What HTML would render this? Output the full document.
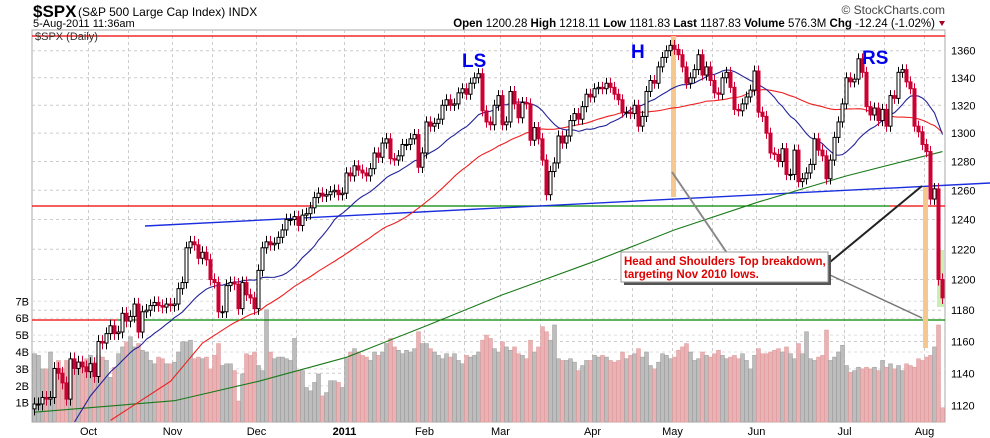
<!DOCTYPE html>
<html><head><meta charset="utf-8">
<style>
html,body{margin:0;padding:0;background:#fff;}
svg{display:block;font-family:"Liberation Sans",sans-serif;}
</style></head>
<body>
<svg id="chart" width="990" height="438" viewBox="0 0 990 438" xmlns="http://www.w3.org/2000/svg">
  <g>
    <text x="33" y="17" font-size="17" font-weight="bold">$SPX</text>
    <text x="78" y="16" font-size="12">(S&amp;P 500 Large Cap Index) INDX</text>
    <text x="33" y="27" font-size="11">5-Aug-2011 11:36am</text>
    <text x="945" y="14" font-size="12" fill="#444" text-anchor="end">© StockCharts.com</text>
    <text x="935" y="27" font-size="11.5" text-anchor="end"><tspan font-weight="bold">Open</tspan> 1200.28 <tspan font-weight="bold">High</tspan> 1218.11 <tspan font-weight="bold">Low</tspan> 1181.83 <tspan font-weight="bold">Last</tspan> 1187.83 <tspan font-weight="bold">Volume</tspan> 576.3M <tspan font-weight="bold">Chg</tspan> -12.24 (-1.02%)</text>
    <polygon points="939,21 945,21 942,26" fill="#aa0022"/>
  </g>
  <rect x="32" y="30" width="913" height="392" fill="#fff" stroke="#aaa"/>
  <g id="grid"></g>
  <g id="vol"></g>
  <g id="lines"></g>
  <g id="mas"></g>
  <g id="candles"></g>
  <g id="axes"></g>
  <text x="35" y="40" font-size="11" fill="#333">$SPX (Daily)</text>
  <text x="462" y="67" font-size="19" font-weight="bold" fill="#0000ee">LS</text>
  <text x="631" y="58" font-size="19" font-weight="bold" fill="#0000ee">H</text>
  <text x="862" y="64" font-size="19" font-weight="bold" fill="#0000ee">RS</text>
  <g>
    <line x1="672" y1="172" x2="727" y2="253" stroke="#888" stroke-width="2"/>
    <line x1="830" y1="262" x2="922" y2="186" stroke="#222" stroke-width="2"/>
    <line x1="830" y1="275" x2="922" y2="318" stroke="#777" stroke-width="1.5"/>
    <rect x="624" y="255" width="207" height="30" fill="#555"/>
    <rect x="621" y="252" width="207" height="30" fill="#fff" stroke="#999"/>
    <text x="624" y="265" font-size="11.5" font-weight="bold" fill="#e00000">Head and Shoulders Top breakdown,</text>
    <text x="624" y="278" font-size="11.5" font-weight="bold" fill="#e00000">targeting Nov 2010 lows.</text>
  </g>
</svg>
<script>
const closes=[1121,1121,1125,1124,1125,1143,1140,1134,1124,1149,1143,1147,1144,1141,
1146,1138,1160,1159,1165,1170,1165,1166,1178,1173,1176,1184,1166,1179,1180,1183,1185,1183,1182,1184,1183,
1184,1194,1198,1221,1225,1223,1214,1218,1213,1200,1198,1179,1179,1196,1198,1197,1181,1198,1190,1188,1181,
1206,1221,1225,1223,1224,1228,1233,1240,1240,1242,1236,1243,1244,1248,1255,1258,1256,1257,1259,1260,1257,1258,
1272,1270,1277,1274,1272,1270,1275,1286,1283,1293,1296,1282,1281,1284,1292,1292,1296,1299,1276,1286,
1308,1305,1307,1310,1320,1324,1320,1321,1329,1332,1328,1336,1340,1343,1316,1308,1306,1320,1327,
1306,1308,1330,1321,1311,1322,1321,1295,1304,1296,1281,1257,1273,1279,1298,1293,1298,1309,1314,1310,1319,1328,1326,
1332,1333,1332,1336,1333,1328,1324,1315,1315,1314,1320,1305,1312,1330,1338,1336,1348,1355,1360,1364,
1361,1357,1348,1336,1340,1346,1357,1342,1348,1338,1329,1328,1340,1344,1333,1317,1316,1321,1326,1331,1345,
1315,1312,1300,1286,1285,1280,1289,1271,1271,1288,1266,1268,1272,1278,1296,1288,1284,1268,1281,1297,1308,1321,
1340,1337,1339,1354,1344,1319,1313,1318,1309,1317,1305,1327,1325,1344,1346,1337,1332,1305,1301,1292,
1287,1254,1261,1200,1188];
const firstOpen=1118;
const volumes=[3.9,3.8,3.0,3.0,4.0,3.0,3.5,3.0,3.5,3.4,3.4,3.0,3.1,3.6,
3.8,3.4,3.8,3.7,3.5,2.5,3.1,3.9,4.3,4.6,4.9,4.3,4.5,4.1,4.0,3.5,3.3,3.7,3.6,3.3,3.3,
3.4,4.0,4.6,4.6,4.7,3.6,3.7,3.6,3.7,3.0,3.8,4.5,3.2,3.3,3.3,2.9,1.1,2.7,3.9,3.8,4.0,
3.2,2.9,6.5,4.0,3.6,3.7,3.7,3.6,3.5,4.8,2.9,2.9,1.9,1.7,2.2,2.7,1.4,1.6,2.3,2.3,2.2,1.9,
3.6,4.0,4.2,4.0,3.8,3.7,3.5,4.0,3.8,4.0,4.5,4.8,4.3,4.1,3.9,4.1,4.0,4.2,5.2,4.5,
4.5,4.2,4.0,3.8,3.6,3.9,3.7,3.9,3.5,3.3,3.8,3.7,3.8,4.0,4.7,5.0,4.8,4.2,4.0,
4.6,4.3,4.1,4.3,3.9,3.8,3.6,4.7,4.0,4.3,5.5,5.2,4.7,5.6,3.6,3.5,3.5,3.6,3.4,2.9,3.2,3.5,3.5,
3.8,3.7,3.8,3.7,3.5,3.4,3.5,4.0,3.6,3.8,3.9,4.2,3.7,4.0,3.2,3.0,3.4,3.9,3.8,3.6,
3.7,4.1,4.3,4.5,4.0,3.5,3.6,4.0,3.8,3.7,3.9,4.1,3.8,3.6,3.7,3.8,3.6,3.9,3.5,3.0,3.8,
4.2,3.9,3.9,4.0,4.1,4.2,4.0,4.3,3.9,3.6,4.5,3.9,5.2,3.6,3.5,3.7,3.8,5.3,3.5,3.7,4.0,4.4,
3.2,2.8,2.9,3.1,3.0,3.1,3.0,3.1,2.9,3.5,3.1,3.3,3.0,3.2,2.9,3.3,3.2,3.1,3.6,3.5,
3.7,3.8,4.3,5.6,0.7];
/* moving-average lead-in values before enough closes exist */
const ma20LeadIdx=[10,14];
const ma20LeadVal=[1110,1126];
const ma50LeadIdx=[19,34,42];
const ma50LeadVal=[1111,1135,1159];
const ma200Idx=[0,35,56,78,98,117,140,160,181,203,227];
const ma200Val=[1116,1123,1135,1150,1170,1190,1212,1233,1252,1270,1287];
const priceTicks=[1120,1140,1160,1180,1200,1220,1240,1260,1280,1300,1320,1340,1360];
const volTicks=[1,2,3,4,5,6,7];
const monthLabels=["Oct","Nov","Dec","2011","Feb","Mar","Apr","May","Jun","Jul","Aug"];
const monthStarts=[14,35,56,78,98,117,140,160,181,203,223];

const NS="http://www.w3.org/2000/svg";
function X(i){return 34.5+4*i;}
function Y(p){return 50.7+1828*Math.log(1360/p);}
function VY(v){return 419.6-16.9*v;}
function mk(tag,attrs,parent){const e=document.createElementNS(NS,tag);for(const k in attrs)e.setAttribute(k,attrs[k]);parent.appendChild(e);return e;}

const grid=document.getElementById('grid');
priceTicks.forEach(p=>{
  const l=mk('line',{x1:32,x2:945,y1:Y(p),y2:Y(p),stroke:'#ccc','stroke-dasharray':'3,3'},grid);
  
  
});
volTicks.forEach(v=>{
  const l=mk('line',{x1:32,x2:945,y1:VY(v),y2:VY(v),stroke:'#ddd','stroke-dasharray':'3,3'},grid);
  
  
});
monthStarts.forEach(m=>{
  [m,m+10].forEach(i=>{ if(i<228){
    const l=mk('line',{x1:X(i)-2,x2:X(i)-2,y1:30,y2:422,stroke:'#ccc','stroke-dasharray':'3,3'},grid);
    
    
  }});
});

const vol=document.getElementById('vol');
volumes.forEach((v,i)=>{
  const prev=i?closes[i-1]:firstOpen;
  const down=closes[i]<prev;
  const r=mk('rect',{x:X(i)-2,y:VY(v),width:4,height:422-VY(v),fill:down?'#eab2b5':'#bdbdbd',stroke:down?'#d99':'#999','stroke-width':0.5},vol);
  
  
});

const lines=document.getElementById('lines');
function ln(a,name){const l=mk('line',a,lines);return l;}
ln({x1:32,x2:945,y1:36,y2:36,stroke:'#e00','stroke-width':1.2},'resistance-line-top');
ln({x1:32,x2:313,y1:206,y2:206,stroke:'#e00','stroke-width':1.2},'support-line-red-left');
ln({x1:313,x2:890,y1:206,y2:206,stroke:'#080','stroke-width':1.2},'support-line-green');
ln({x1:890,x2:945,y1:206,y2:206,stroke:'#e00','stroke-width':1.2},'support-line-red-right');
ln({x1:32,x2:117,y1:320,y2:320,stroke:'#e00','stroke-width':1.2},'target-line-red');
ln({x1:117,x2:945,y1:320,y2:320,stroke:'#080','stroke-width':1.2},'target-line-green');
ln({x1:145,x2:990,y1:226,y2:183,stroke:'#1a2ee0','stroke-width':1.4},'neckline');
let o=mk('rect',{x:671,y:36,width:5,height:161,fill:'#f5c890'},lines);


o=mk('rect',{x:923,y:187,width:5,height:161,fill:'#f5c890'},lines);


o=mk('rect',{x:937,y:250,width:7,height:57,fill:'#c8f0b0'},lines);



function sma(n,leadIdx,leadVal){
  const pts=leadIdx.map((i,k)=>[i,leadVal[k]]);
  for(let i=n-1;i<closes.length;i++){
    let s=0;for(let j=i-n+1;j<=i;j++)s+=closes[j];
    pts.push([i,s/n]);
  }
  return pts;
}
const mas=document.getElementById('mas');
function maLine(pts,color,name){
  const p=mk('polyline',{points:pts.map(q=>X(q[0])+','+Math.min(424,Y(q[1]))).join(' '),fill:'none',stroke:color,'stroke-width':1.1},mas);
  
  
}
maLine(ma200Idx.map((i,k)=>[i,ma200Val[k]]),'#1a7a1a','ma200-line');
maLine(sma(50,ma50LeadIdx,ma50LeadVal),'#f02020','ma50-line');
maLine(sma(20,ma20LeadIdx,ma20LeadVal),'#22229a','ma20-line');

const cg=document.getElementById('candles');
closes.forEach((c,i)=>{
  const op=i?closes[i-1]:firstOpen;
  const down=c<op;
  const col=down?'#cc0033':'#000';
  const top=Math.max(op,c), bot=Math.min(op,c);
  const w=mk('line',{x1:X(i),x2:X(i),y1:Y(top+4),y2:Y(bot-4),stroke:col,'stroke-width':1},cg);
  
  
  const h=Math.max(1,Y(bot)-Y(top));
  const b=mk('rect',{x:X(i)-1.5,y:Y(top),width:3,height:h,fill:down?col:'#fff',stroke:col,'stroke-width':1},cg);
  
  
});

const ax=document.getElementById('axes');
priceTicks.forEach(p=>{
  const t=mk('text',{x:951,y:Y(p)+4,'font-size':11},ax);
  t.textContent=p;
  
  
});
volTicks.forEach(v=>{
  const t=mk('text',{x:29,y:VY(v)+4,'font-size':11,'text-anchor':'end'},ax);
  t.textContent=v+'B';
  
  
});
monthLabels.forEach((m,k)=>{
  const t=mk('text',{x:X(monthStarts[k])-2,y:435,'font-size':11,'text-anchor':'middle','font-weight':m==='2011'?'bold':'normal'},ax);
  t.textContent=m;
  
  
});
</script>
</body></html>
